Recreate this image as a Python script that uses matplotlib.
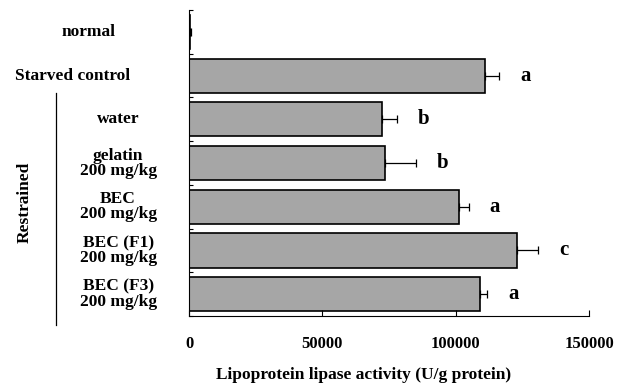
import matplotlib
matplotlib.use('Agg')
import matplotlib.pyplot as plt
import matplotlib.transforms as mtransforms

plt.rcParams['font.family'] = ['Liberation Serif', 'DejaVu Serif']
plt.rcParams['font.weight'] = 'bold'

# data
groups = ['normal', 'Starved control', 'water', 'gelatin\n200 mg/kg',
          'BEC\n200 mg/kg', 'BEC (F1)\n200 mg/kg', 'BEC (F3)\n200 mg/kg']
activity = [500, 111000, 72200, 73300, 101300, 123000, 108900]
sem = [300, 5300, 5700, 11800, 3500, 7900, 2800]
letters = ['', 'a', 'b', 'b', 'a', 'c', 'a']
xticks = [0, 50000, 100000, 150000]

fig = plt.figure(figsize=(6.3, 3.85), dpi=100)
ax = fig.add_axes([0.3, 0.179, 0.6354, 0.795])

ypos = list(range(len(groups)))
ax.barh(ypos, activity, height=0.78, color='#a6a6a6', edgecolor='black', linewidth=1.2,
        xerr=[[0] * len(sem), sem], error_kw=dict(ecolor='black', elinewidth=0.9,
                                                   capsize=3, capthick=0.9))

# significance letters just right of each error bar
for y, v, e, l in zip(ypos, activity, sem, letters):
    if l:
        ax.annotate(l, (v + e, y), xytext=(15, 0), textcoords='offset points',
                    ha='left', va='center', fontsize=15, fontweight='bold')

ax.set_xlim(0, 150000)
ax.set_ylim(6.5, -0.5)
ax.set_xticks(xticks)
ax.set_xticklabels([str(t) for t in xticks], fontsize=12, fontweight='bold')
ax.set_yticks([i - 0.5 for i in range(len(groups) + 1)])
ax.set_yticklabels([])
ax.tick_params(axis='x', direction='in', length=4, pad=14, width=0.8)
ax.tick_params(axis='y', direction='in', length=3, width=0.8)
ax.spines['top'].set_visible(False)
ax.spines['right'].set_visible(False)
ax.set_xlabel('Lipoprotein lipase activity (U/g protein)', fontsize=12.5,
              fontweight='bold')
# the label sits left of the axis centre in the original
ax.xaxis.set_label_coords(0.437, -0.165)

# category labels
trans = mtransforms.blended_transform_factory(ax.transAxes, ax.transData)
label_x = [-0.252, -0.29, -0.177, -0.177, -0.177, -0.177, -0.177]
for y, name, lx in zip(ypos, groups, label_x):
    ax.text(lx, y, name, transform=trans, ha='center', va='center', fontsize=12.5,
            fontweight='bold', linespacing=0.92)

# bracket for the restrained groups
ax.plot([-0.332, -0.332], [1.4, 6.71], transform=trans, color='black', lw=0.9,
        clip_on=False)
ax.text(-0.41, 3.9, 'Restrained', transform=trans, rotation=90, ha='center',
        va='center', fontsize=12.5, fontweight='bold')

plt.savefig('out.png', dpi=100)
